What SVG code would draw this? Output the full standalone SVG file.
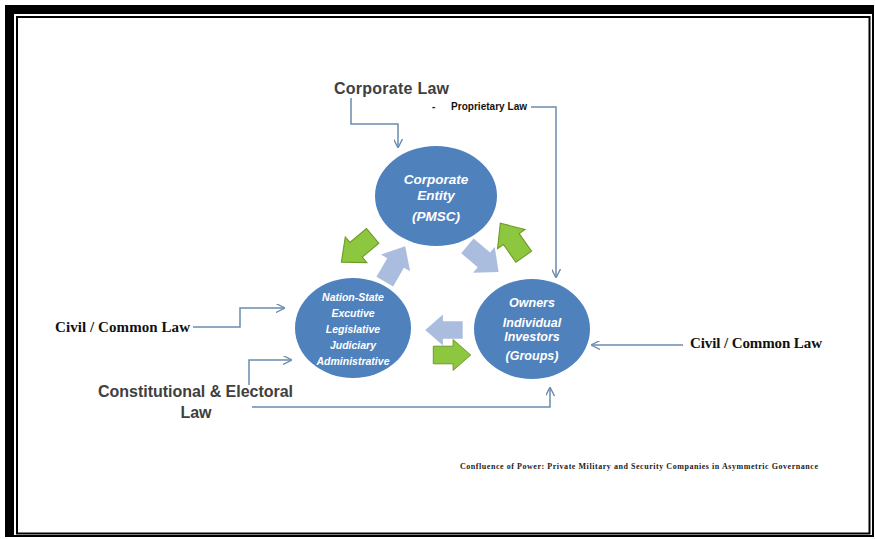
<svg xmlns="http://www.w3.org/2000/svg" xmlns:xlink="http://www.w3.org/1999/xlink" width="875" height="539" viewBox="0 0 875 539">
<style>
.circ{fill:#4F81BD;}
.ct{fill:#ffffff;font-family:"Liberation Sans",Arial,sans-serif;font-weight:bold;font-style:italic;text-anchor:middle;}
.lbl{fill:#404040;font-family:"Liberation Sans",Arial,sans-serif;font-weight:bold;}
.ser{fill:#111111;font-family:"Liberation Serif","Times New Roman",serif;font-weight:bold;}
.con{fill:none;stroke:#6A8CAE;stroke-width:1.5;}
.green{fill:#8DC63F;stroke:#6E9A25;stroke-width:0.9;}
.light{fill:#AABDDF;}
</style>
<defs>
<marker id="ah" viewBox="0 0 10 10" refX="9" refY="5" markerWidth="9" markerHeight="9" markerUnits="userSpaceOnUse" orient="auto">
<path d="M0,0 L10,5 L0,10" fill="none" stroke="#6A8CAE" stroke-width="1.5"/>
</marker>
<path id="blk" d="M-17,-8 L1,-8 L1,-14 L17,0 L1,14 L1,8 L-17,8 Z"/>
</defs>
<rect x="0" y="0" width="875" height="539" fill="#ffffff"/>
<rect x="5" y="5" width="869" height="532" fill="#000000"/>
<rect x="14" y="14" width="858" height="521" fill="#ffffff"/>
<rect x="17" y="17" width="852.5" height="516.5" fill="none" stroke="#000000" stroke-width="2"/>

<g id="connectors">
<polyline class="con" points="351,98 351,124 398,124 398,147" marker-end="url(#ah)"/>
<polyline class="con" points="531,107 556,107 556,277" marker-end="url(#ah)"/>
<polyline class="con" points="193,327 240,327 240,308 284,308" marker-end="url(#ah)"/>
<polyline class="con" points="249,385 249,360 291,360" marker-end="url(#ah)"/>
<polyline class="con" points="252,407 550,407 550,388" marker-end="url(#ah)"/>
<line class="con" x1="683" y1="345" x2="592" y2="345" marker-end="url(#ah)"/>
</g>

<g id="block-arrows">
<use xlink:href="#blk" class="green" transform="translate(357,249) rotate(140) scale(1.2)"/>
<use xlink:href="#blk" class="light" transform="translate(395,264) rotate(-60) scale(1.2)"/>
<use xlink:href="#blk" class="light" transform="translate(483,259) rotate(40) scale(1.2)"/>
<use xlink:href="#blk" class="green" transform="translate(512,240) rotate(-125) scale(1.2)"/>
<use xlink:href="#blk" class="light" transform="translate(444,330) rotate(180) scale(1.1)"/>
<use xlink:href="#blk" class="green" transform="translate(452,355) scale(1.1)"/>
</g>

<g id="corporate-entity">
<ellipse class="circ" cx="436" cy="196" rx="61" ry="50"/>
<text class="ct" font-size="13.5" x="436" y="184">Corporate</text>
<text class="ct" font-size="13.5" x="436" y="200">Entity</text>
<text class="ct" font-size="13.5" x="436" y="221">(PMSC)</text>
</g>

<g id="nation-state">
<ellipse class="circ" cx="353" cy="328" rx="58" ry="50"/>
<text class="ct" font-size="10.5" x="353" y="301">Nation-State</text>
<text class="ct" font-size="10.5" x="353" y="317">Excutive</text>
<text class="ct" font-size="10.5" x="353" y="333">Legislative</text>
<text class="ct" font-size="10.5" x="353" y="349">Judiciary</text>
<text class="ct" font-size="10.5" x="353" y="365">Administrative</text>
</g>

<g id="owners">
<ellipse class="circ" cx="532" cy="329" rx="58" ry="50"/>
<text class="ct" font-size="12.5" x="532" y="307">Owners</text>
<text class="ct" font-size="12.5" x="532" y="327">Individual</text>
<text class="ct" font-size="12.5" x="532" y="341">Investors</text>
<text class="ct" font-size="12.5" x="532" y="360">(Groups)</text>
</g>

<g id="corporate-law">
<text class="lbl" font-size="16" x="334" y="94" textLength="115">Corporate Law</text>
</g>
<g id="proprietary-law">
<text class="lbl" font-size="10" x="432" y="110" style="fill:#111111">-</text>
<text class="lbl" font-size="10" x="451" y="110" style="fill:#111111" textLength="76">Proprietary Law</text>
</g>
<g id="civil-left">
<text class="ser" font-size="15" x="55" y="332" textLength="135">Civil / Common Law</text>
</g>
<g id="civil-right">
<text class="ser" font-size="15" x="690" y="348" textLength="132">Civil / Common Law</text>
</g>
<g id="constitutional">
<text class="lbl" font-size="16" x="98" y="397" textLength="195">Constitutional &amp; Electoral</text>
<text class="lbl" font-size="16" x="196" y="418" text-anchor="middle">Law</text>
</g>
<g id="caption">
<text class="ser" font-size="8" x="460" y="469" textLength="358" style="fill:#222222">Confluence of Power: Private Military and Security Companies in Asymmetric Governance</text>
</g>
</svg>
